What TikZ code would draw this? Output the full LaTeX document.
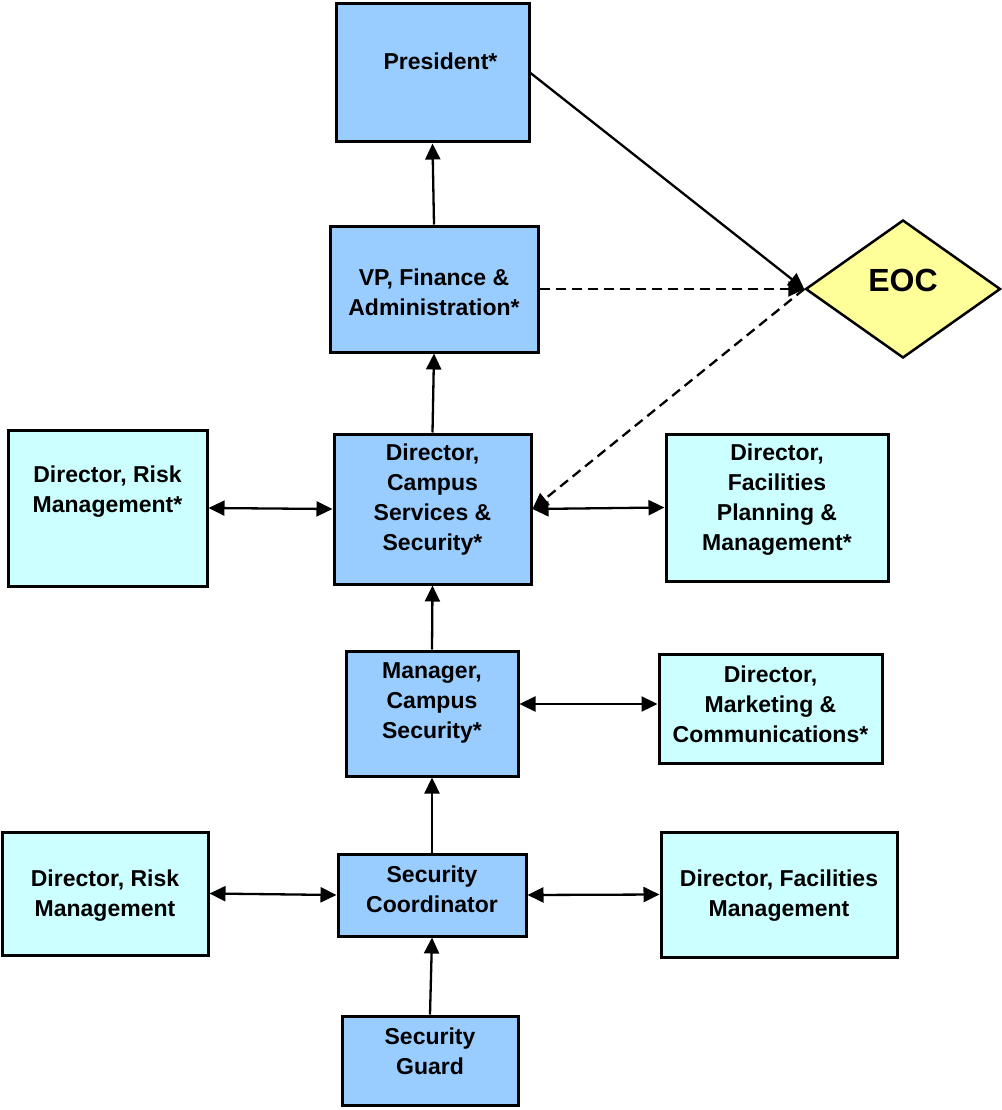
\documentclass[tikz,border=0pt]{standalone}
\usepackage{fontspec}
\setmainfont{Liberation Sans}
\usetikzlibrary{arrows.meta,shapes.geometric}
\definecolor{unitblue}{RGB}{153,204,255}
\definecolor{partnercyan}{RGB}{204,255,255}
\definecolor{eocyellow}{RGB}{255,255,153}
\tikzstyle{unit}=[rectangle,draw=black,line width=3pt,fill=unitblue,
                  inner sep=0pt]
\tikzstyle{partner}=[unit,fill=partnercyan]
\tikzstyle{caption}=[align=center,inner sep=0pt,
                     font=\bfseries\fontsize{23}{30}\selectfont]
\tikzstyle{link}=[line width=2.3pt,-{Triangle[length=16pt,width=15pt]}]
\tikzstyle{twoway}=[line width=2.3pt,
  {Triangle[length=16pt,width=15pt]}-{Triangle[length=16pt,width=15pt]}]

\begin{document}
\begin{tikzpicture}[x=1pt,y=-1pt]
    \useasboundingbox (0,0) rectangle (1001,1110);
    % chain of command
    \node (pres) at (432.5,73) [unit,minimum width=193pt,minimum height=138pt,
      label={[caption,yshift=12pt,xshift=8pt]center:President*}]{};
    \node (vp) at (434,289) [unit,minimum width=208pt,minimum height=126pt,
      label={[caption,yshift=-3pt]center:{VP, Finance \&\\Administration*}}]{};
    \node (dcss) at (432.5,509) [unit,minimum width=197pt,minimum height=150pt,
      label={[caption,yshift=9pt]center:{Director,\\Campus\\Services \&\\Security*}}]{};
    \node (mcs) at (432,713.5) [unit,minimum width=172pt,minimum height=125pt,
      label={[caption,yshift=10.5pt]center:{Manager,\\Campus\\Security*}}]{};
    \node (coord) at (432,895) [unit,minimum width=188pt,minimum height=82pt,
      label={[caption,yshift=5.5pt]center:{Security\\Coordinator}}]{};
    \node (guard) at (430,1060.5) [unit,minimum width=176pt,minimum height=89pt,
      label={[caption,yshift=9pt]center:{Security\\Guard}}]{};
    % partners
    \node (riskA) at (107.5,508) [partner,minimum width=199pt,minimum height=156pt,
      label={[caption,yshift=16.5pt]center:{Director, Risk\\Management*}}]{};
    \node (facA) at (777,507.5) [partner,minimum width=222pt,minimum height=147pt,
      label={[caption,yshift=7.5pt]center:{Director,\\Facilities\\Planning \&\\Management*}}]{};
    \node (mkt) at (770.5,708.5) [partner,minimum width=223pt,minimum height=109pt,
      label={[caption,yshift=4.5pt]center:{Director,\\Marketing \&\\Communications*}}]{};
    \node (riskB) at (105,893.5) [partner,minimum width=206pt,minimum height=123pt,
      label={[caption,yshift=-2pt]center:{Director, Risk\\Management}}]{};
    \node (facB) at (779,894.5) [partner,minimum width=236pt,minimum height=125pt,
      label={[caption,yshift=-1pt]center:{Director, Facilities\\Management}}]{};
    % EOC
    \node (eoc) at (903,289) [diamond,draw=black,line width=2.5pt,fill=eocyellow,
      inner sep=0pt,minimum width=195pt,minimum height=138pt,
      label={[caption,yshift=9pt,font=\bfseries\fontsize{32}{36}\selectfont]center:EOC}]{};

    \draw[link] (vp.north) -- (pres.south);
    \draw[link] (dcss.north) -- (vp.south);
    \draw[link] (mcs.north) -- (dcss.south);
    \draw[link] (coord.north) -- (mcs.south);
    \draw[link] (guard.north) -- (coord.south);
    \draw[twoway] (riskA.east) -- (dcss.west);
    \draw[twoway] (dcss.east) -- (facA.west);
    \draw[twoway] ([yshift=9.5pt]mcs.east) -- ([yshift=4.5pt]mkt.west);
    \draw[twoway] (riskB.east) -- (coord.west);
    \draw[twoway] (coord.east) -- (facB.west);
    \draw[link] (pres.east) -- (eoc.west);
    \draw[link,dash pattern=on 10pt off 6pt] (vp.east) -- (eoc.west);
    \draw[link,dash pattern=on 10pt off 6pt] (eoc.west) -- (dcss.east);
\end{tikzpicture}
\end{document}
